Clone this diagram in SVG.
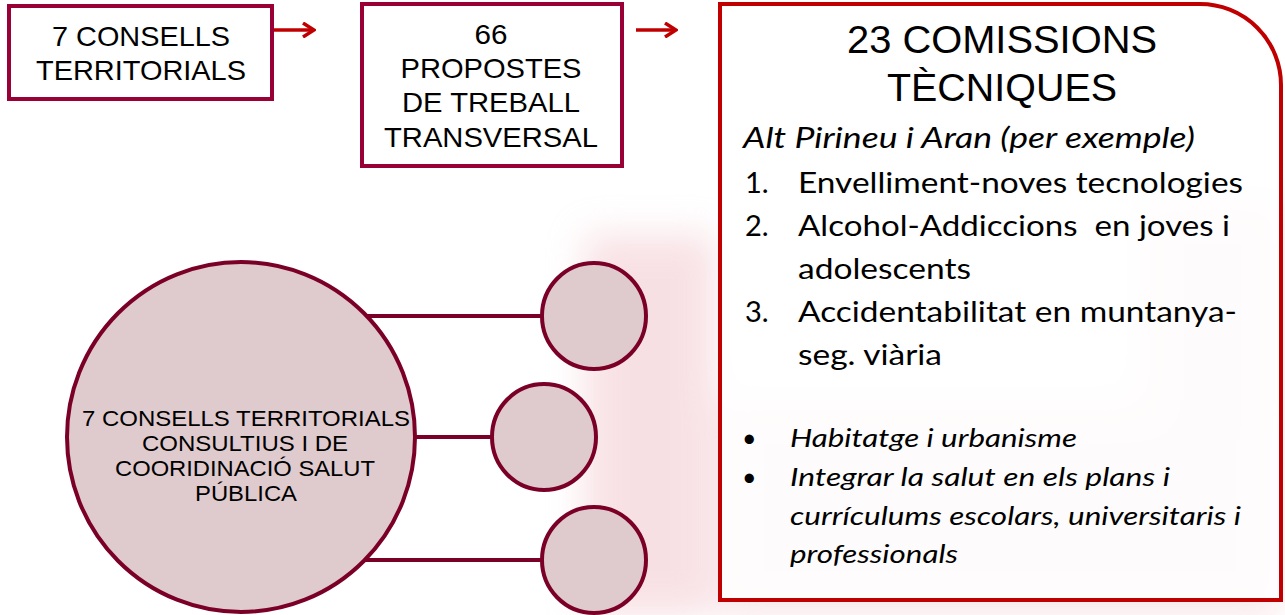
<svg xmlns="http://www.w3.org/2000/svg" width="1285" height="615" viewBox="0 0 1285 615">
<style>
.box{fill:#ffffff;stroke:#990036;stroke-width:4}
.cap{font-family:"Liberation Sans",Arial,sans-serif;fill:#000;text-anchor:middle}
.cal{font-family:Lato,"Open Sans",sans-serif;fill:#000}
.ell{fill:#dfcacd;stroke:#7b0028;stroke-width:4}
.con{stroke:#7b0028;stroke-width:4;fill:none}
.arr{stroke:#c00000;stroke-width:3.5;fill:none}
</style>
<defs>
<filter id="blur" x="-20%" y="-20%" width="140%" height="140%"><feGaussianBlur stdDeviation="18"/></filter>
<marker id="chev" markerWidth="14" markerHeight="16" refX="12" refY="8" orient="auto" markerUnits="userSpaceOnUse">
<path d="M1,1 L12,8 L1,15" stroke="#c00000" stroke-width="3.5" fill="none"/>
</marker>
</defs>
<rect width="1285" height="615" fill="#ffffff"/>
<g id="watermark" filter="url(#blur)" opacity="0.5">
<rect x="585" y="235" width="130" height="380" fill="#f1c3ca"/>
<rect x="720" y="400" width="560" height="215" fill="#f3cdd3"/>
<rect x="1140" y="200" width="145" height="240" fill="#f3cdd3"/>
</g>
<g id="connectors">
<line class="arr" x1="274" y1="30" x2="314" y2="30" marker-end="url(#chev)"/>
<line class="arr" x1="636" y1="30" x2="676" y2="30" marker-end="url(#chev)"/>
<line class="con" x1="360" y1="316" x2="542" y2="316"/>
<line class="con" x1="410" y1="437" x2="491" y2="437"/>
<line class="con" x1="360" y1="560" x2="542" y2="560"/>
</g>
<g id="box-consells">
<rect class="box" x="9" y="6" width="263" height="93"/>
<text class="cap" font-size="28" x="141" y="46" textLength="178" lengthAdjust="spacingAndGlyphs">7 CONSELLS</text>
<text class="cap" font-size="28" x="141" y="80" textLength="210" lengthAdjust="spacingAndGlyphs">TERRITORIALS</text>
</g>
<g id="box-propostes">
<rect class="box" x="362" y="4" width="260" height="162"/>
<text class="cap" font-size="28" x="491" y="44" textLength="33" lengthAdjust="spacingAndGlyphs">66</text>
<text class="cap" font-size="28" x="491" y="78" textLength="181" lengthAdjust="spacingAndGlyphs">PROPOSTES</text>
<text class="cap" font-size="28" x="491" y="112" textLength="178" lengthAdjust="spacingAndGlyphs">DE TREBALL</text>
<text class="cap" font-size="28" x="491" y="147" textLength="214" lengthAdjust="spacingAndGlyphs">TRANSVERSAL</text>
</g>
<g id="box-comissions">
<path d="M720,4 H1200 A81,81 0 0 1 1281,85 V600 H720 Z" fill="#ffffff" fill-opacity="0.85" stroke="#c00000" stroke-width="4"/>
<text class="cap" font-size="38" x="1002" y="53" textLength="310" lengthAdjust="spacingAndGlyphs">23 COMISSIONS</text>
<text class="cap" font-size="38" x="1002" y="101" textLength="230" lengthAdjust="spacingAndGlyphs">TÈCNIQUES</text>
<text class="cal" font-size="28" font-style="italic" x="743" y="148" textLength="452" lengthAdjust="spacingAndGlyphs">Alt Pirineu i Aran (per exemple)</text>
<g font-size="29" class="cal">
<text class="cal" x="745" y="193">1.</text>
<text class="cal" x="798" y="193" textLength="445" lengthAdjust="spacingAndGlyphs">Envelliment-noves tecnologies</text>
<text class="cal" x="745" y="236">2.</text>
<text class="cal" x="798" y="236" textLength="432" lengthAdjust="spacingAndGlyphs" xml:space="preserve">Alcohol-Addiccions  en joves i</text>
<text class="cal" x="798" y="279" textLength="173" lengthAdjust="spacingAndGlyphs">adolescents</text>
<text class="cal" x="745" y="322">3.</text>
<text class="cal" x="798" y="322" textLength="439" lengthAdjust="spacingAndGlyphs">Accidentabilitat en muntanya-</text>
<text class="cal" x="798" y="365" textLength="144" lengthAdjust="spacingAndGlyphs">seg. viària</text>
</g>
<g font-size="25" class="cal">
<text class="cal" x="742" y="447">•</text>
<text class="cal" x="790" y="447" font-style="italic" textLength="287" lengthAdjust="spacingAndGlyphs">Habitatge i urbanisme</text>
<text class="cal" x="742" y="486">•</text>
<text class="cal" x="790" y="486" font-style="italic" textLength="380" lengthAdjust="spacingAndGlyphs">Integrar la salut en els plans i</text>
<text class="cal" x="790" y="525" font-style="italic" textLength="451" lengthAdjust="spacingAndGlyphs">currículums escolars, universitaris i</text>
<text class="cal" x="790" y="563" font-style="italic" textLength="168" lengthAdjust="spacingAndGlyphs">professionals</text>
</g>
</g>
<g id="circle-main">
<ellipse class="ell" cx="241" cy="437" rx="174" ry="175"/>
<text class="cap" font-size="22" x="246" y="426" textLength="328" lengthAdjust="spacingAndGlyphs">7 CONSELLS TERRITORIALS</text>
<text class="cap" font-size="22" x="245" y="451" textLength="206" lengthAdjust="spacingAndGlyphs">CONSULTIUS I DE</text>
<text class="cap" font-size="22" x="245" y="476" textLength="260" lengthAdjust="spacingAndGlyphs">COORIDINACIÓ SALUT</text>
<text class="cap" font-size="22" x="246" y="501" textLength="102" lengthAdjust="spacingAndGlyphs">PÚBLICA</text>
</g>
<g id="circle-1"><ellipse class="ell" cx="594" cy="316" rx="52" ry="53"/></g>
<g id="circle-2"><ellipse class="ell" cx="544" cy="437" rx="52" ry="53"/></g>
<g id="circle-3"><ellipse class="ell" cx="594" cy="560" rx="52" ry="53"/></g>
</svg>
